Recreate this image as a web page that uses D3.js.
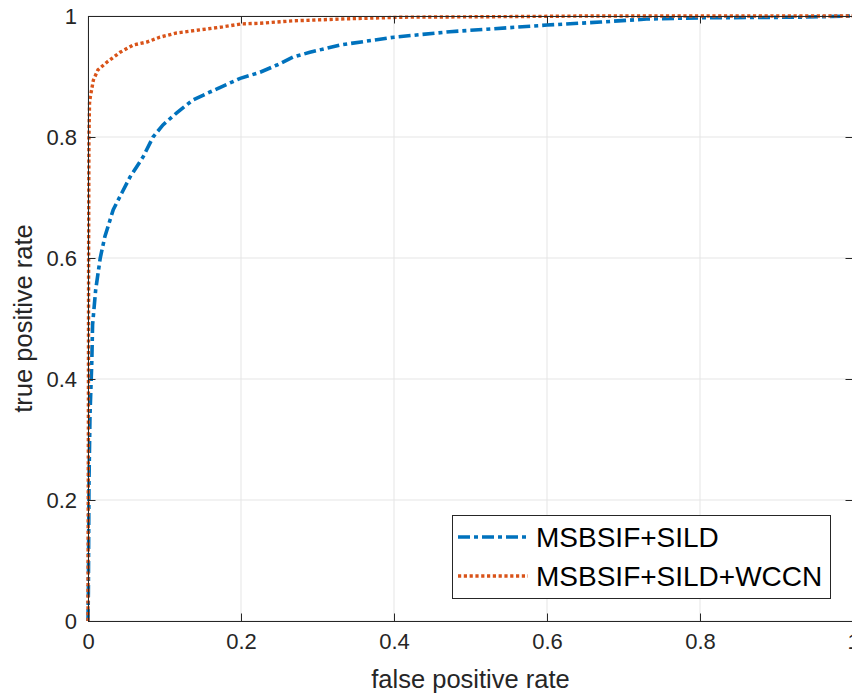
<!DOCTYPE html>
<html>
<head>
<meta charset="utf-8">
<script src="https://cdn.jsdelivr.net/npm/d3@7"></script>
<style>
  html, body { margin: 0; padding: 0; background: #fff; }
  svg { display: block; }
  text { font-family: "Liberation Sans", Arial, Helvetica, sans-serif; }
</style>
</head>
<body>
<svg id="chart" width="852" height="693"></svg>
<script>
// ---- data ----
const seriesNames = ["MSBSIF+SILD", "MSBSIF+SILD+WCCN"];
const xTicks = [0, 0.2, 0.4, 0.6, 0.8, 1];
const yTicks = [0, 0.2, 0.4, 0.6, 0.8, 1];
const xTickLabels = ["0", "0.2", "0.4", "0.6", "0.8", "1"];
const yTickLabels = ["0", "0.2", "0.4", "0.6", "0.8", "1"];

const fprA = [0, 0.0005, 0.0013, 0.0026, 0.005, 0.006, 0.010, 0.016, 0.022, 0.033, 0.044, 0.055, 0.072, 0.085, 0.098, 0.116, 0.137, 0.159, 0.199, 0.225, 0.247, 0.268, 0.290, 0.329, 0.400, 0.473, 0.600, 0.670, 0.730, 0.800, 0.930, 1];
const tprA = [0, 0.05, 0.23, 0.34, 0.43, 0.49, 0.547, 0.600, 0.635, 0.680, 0.707, 0.734, 0.767, 0.800, 0.820, 0.840, 0.861, 0.874, 0.897, 0.907, 0.919, 0.932, 0.940, 0.952, 0.965, 0.974, 0.985, 0.990, 0.995, 0.997, 0.998, 1];

const fprB = [0, 0.0005, 0.0008, 0.0012, 0.002, 0.003, 0.007, 0.013, 0.025, 0.042, 0.059, 0.077, 0.094, 0.116, 0.146, 0.176, 0.201, 0.225, 0.268, 0.290, 0.330, 0.410, 0.550, 0.650, 1];
const tprB = [0, 0.30, 0.60, 0.80, 0.856, 0.866, 0.894, 0.911, 0.924, 0.940, 0.952, 0.957, 0.965, 0.972, 0.977, 0.982, 0.987, 0.988, 0.992, 0.993, 0.995, 0.998, 0.999, 1, 1];

const colors = ["#0072BD", "#D95319"];

// ---- layout ----
const svg = d3.select("#chart");
const L = 88, T = 16, R = 853, B = 621;
const x = d3.scaleLinear().domain([0, 1]).range([L, R]);
const y = d3.scaleLinear().domain([0, 1]).range([B, T]);
const axisColor = "#262626";
const tickLen = 7.5;

// grid
const grid = svg.append("g");
grid.selectAll("line.gx").data(xTicks).enter().append("line")
  .attr("x1", d => x(d)).attr("x2", d => x(d)).attr("y1", T).attr("y2", B)
  .attr("stroke", "#e5e5e5").attr("stroke-width", 1);
grid.selectAll("line.gy").data(yTicks).enter().append("line")
  .attr("y1", d => y(d)).attr("y2", d => y(d)).attr("x1", L).attr("x2", R)
  .attr("stroke", "#e5e5e5").attr("stroke-width", 1);

// axes (bottom / left with labels, top / right ticks only)
const fontTick = 22;
const xAxis = d3.axisBottom(x).tickValues(xTicks).tickFormat((d, i) => xTickLabels[i]).tickSizeInner(-tickLen).tickSizeOuter(0).tickPadding(12);
const yAxis = d3.axisLeft(y).tickValues(yTicks).tickFormat((d, i) => yTickLabels[i]).tickSizeInner(-tickLen).tickSizeOuter(0).tickPadding(11);
const xTop = d3.axisTop(x).tickValues(xTicks).tickFormat("").tickSizeInner(-tickLen).tickSizeOuter(0);
const yRight = d3.axisRight(y).tickValues(yTicks).tickFormat("").tickSizeInner(-tickLen).tickSizeOuter(0);

function styleAxis(g) {
  g.select(".domain").attr("stroke", axisColor).attr("stroke-width", 1);
  g.selectAll(".tick line").attr("stroke", axisColor).attr("stroke-width", 1);
  g.selectAll(".tick text").attr("fill", axisColor).style("font-size", fontTick + "px")
    .style("font-family", "'Liberation Sans', Arial, sans-serif");
}

// lines
const line = d3.line().x(d => x(d[0])).y(d => y(d[1]));
const dataA = fprA.map((v, i) => [v, tprA[i]]);
const dataB = fprB.map((v, i) => [v, tprB[i]]);
const dashA = "12,4,4,4";
const dashB = "3.2,2.6";

svg.append("path").datum(dataA).attr("d", line).attr("fill", "none")
  .attr("stroke", colors[0]).attr("stroke-width", 3.6).attr("stroke-dasharray", dashA);
svg.append("path").datum(dataB).attr("d", line).attr("fill", "none")
  .attr("stroke", colors[1]).attr("stroke-width", 3.4).attr("stroke-dasharray", dashB);

svg.append("g").attr("transform", `translate(0,${B})`).call(xAxis).call(styleAxis);
svg.append("g").attr("transform", `translate(${L},0)`).call(yAxis).call(styleAxis);
svg.append("g").attr("transform", `translate(0,${T})`).call(xTop).call(styleAxis);
svg.append("g").attr("transform", `translate(${R},0)`).call(yRight).call(styleAxis);

// axis titles
svg.append("text").attr("x", (L + R) / 2).attr("y", 688).attr("text-anchor", "middle")
  .attr("fill", axisColor).style("font-size", "25.5px").text("false positive rate");
svg.append("text").attr("transform", `translate(32,${(T + B) / 2}) rotate(-90)`).attr("text-anchor", "middle")
  .attr("fill", axisColor).style("font-size", "25.5px").text("true positive rate");

// legend
const lg = svg.append("g");
lg.append("rect").attr("x", 452.5).attr("y", 515.5).attr("width", 378).attr("height", 83)
  .attr("fill", "#fff").attr("stroke", "#262626").attr("stroke-width", 1);
const rows = [{ name: seriesNames[0], c: colors[0], dash: dashA, yy: 537 },
              { name: seriesNames[1], c: colors[1], dash: dashB, yy: 576 }];
rows.forEach(r => {
  lg.append("line").attr("x1", 458).attr("x2", 528).attr("y1", r.yy).attr("y2", r.yy)
    .attr("stroke", r.c).attr("stroke-width", 3.4).attr("stroke-dasharray", r.dash);
  lg.append("text").attr("x", 536).attr("y", r.yy + 10).attr("fill", "#000")
    .style("font-size", "28px").text(r.name);
});
</script>
</body>
</html>
